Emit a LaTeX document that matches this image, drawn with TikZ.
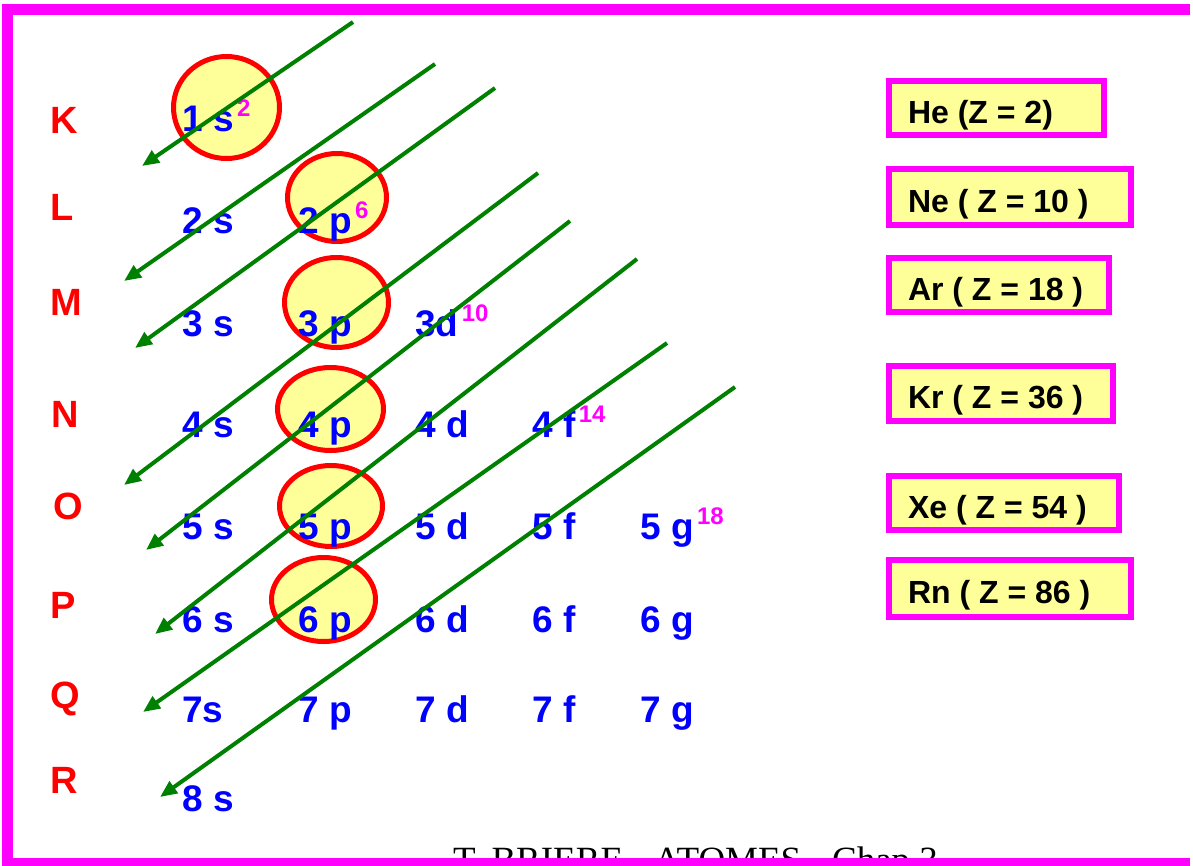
\documentclass[tikz,border=0pt]{standalone}
\usepackage{fontspec}
\setmainfont{Liberation Sans}
\newfontfamily\footfont{Liberation Serif}
\usetikzlibrary{arrows.meta,positioning,shapes.geometric}
\definecolor{ShellRed}{HTML}{FF0000}
\definecolor{OrbBlue}{HTML}{0000FF}
\definecolor{ExpPink}{HTML}{FF00FF}
\definecolor{RuleGreen}{HTML}{008000}
\definecolor{RingFill}{HTML}{FFFF99}
\tikzset{>=Stealth,shell/.style={text=ShellRed,font=\fontsize{38}{38}\selectfont\bfseries,
 anchor=base west,inner sep=0pt},orb/.style={text=OrbBlue,font=\fontsize{37}{37}\selectfont\bfseries,
 anchor=base west,inner sep=0pt},expo/.style={text=ExpPink,font=\fontsize{24}{24}\selectfont\bfseries,
 anchor=base west,inner sep=0pt},ring/.style={ellipse,draw=ShellRed,fill=RingFill,line width=5pt,
 inner sep=0pt},gas/.style={draw=ExpPink,fill=RingFill,line width=6pt,anchor=west,inner xsep=19pt,
 inner ysep=0pt,text height=30pt,text depth=0pt,font=\fontsize{32}{32}\selectfont\bfseries},
 rule/.style={draw=RuleGreen,line width=4pt,-{Triangle[length=17pt,width=14pt]}}}
\begin{document}
\begin{tikzpicture}[x=1pt,y=-1pt]
\useasboundingbox (0,0) rectangle (1193,865);
\foreach \n/\x/\y/\rx/\ry in {r1s/226.5/107.5/106/102,r2p/337/197.5/99/88,r3p/336.5/302.5/104/90,
 r4p/330.5/409/106/83,r5p/331/506/103/81,r6p/323.5/599.5/104/84}
 {\node[ring,minimum width=\rx,minimum height=\ry] (\n) at (\x,\y) {};}
\foreach \n/\x/\y/\t in {o1s/182/131/1 s,o2s/182/233/2 s,o2p/298/233/2 p,
 o3s/182/336/3 s,o3p/298/336/3 p,o3d/415/336/3d,
 o4s/182/437/4 s,o4p/298/437/4 p,o4d/415/437/4 d,o4f/532/437/4 f,
 o5s/182/539/5 s,o5p/298/539/5 p,o5d/415/539/5 d,o5f/532/539/5 f,o5g/640/539/5 g,
 o6s/182/632/6 s,o6p/298/632/6 p,o6d/415/632/6 d,o6f/532/632/6 f,o6g/640/632/6 g,
 o7s/182/722/7s,o7p/298/722/7 p,o7d/415/722/7 d,o7f/532/722/7 f,o7g/640/722/7 g,
 o8s/182/811/8 s}
 {\node[orb] (\n) at (\x,\y) {\t};}
\foreach \o/\e in {o1s/2,o2p/6,o3d/10,o4f/14,o5g/18}
 {\node[expo] (x\o) at ([xshift=3pt,yshift=15pt]\o.base east) {\e};}
\foreach \l/\x/\y in {K/50/133,L/50/220,M/50/315,N/51/427,O/53/519,P/50/618,Q/50/708,R/50/793}
 {\node[shell] (sh\l) at (\x,\y) {\l};}
\foreach \n/\y/\w/\h/\t in {He/108/177/54/{He (Z = 2)},Ne/197/204/56/{Ne ( Z = 10 )},
 Ar/285/182/54/{Ar ( Z = 18 )},Kr/393.5/186/55/{Kr ( Z = 36 )},
 Xe/503/192/54/{Xe ( Z = 54 )},Rn/588.5/204/57/{Rn ( Z = 86 )}}
 {\node[gas,minimum height=\h] (g\n) at (886,\y) {\makebox[\w pt][l]{\t}};}
\begin{scope}
\clip (0,0) rectangle (1193,865);
\node[font=\footfont\fontsize{37}{37}\selectfont,anchor=base west,inner sep=0pt] (foot) at (453,872)
 {T. BRIERE - ATOMES - Chap 3};
\draw[ExpPink,line width=11pt] (1190,9.5) -- (7.5,9.5) -- (7.5,863) -- (1190,863);
\end{scope}
\foreach \i/\xa/\ya/\xb/\yb in {1/353/22/142/166,2/435/64/124/281,3/495/88/135/348,
 4/538/173/124/485,5/570/221/146/550,6/637/259/155/634,7/667/343/143/712,8/735/387/160/797}
 {\coordinate (top\i) at (\xa,\ya); \coordinate (tip\i) at (\xb,\yb);
 \draw[rule] (top\i) -- (tip\i);}
\end{tikzpicture}
\end{document}
